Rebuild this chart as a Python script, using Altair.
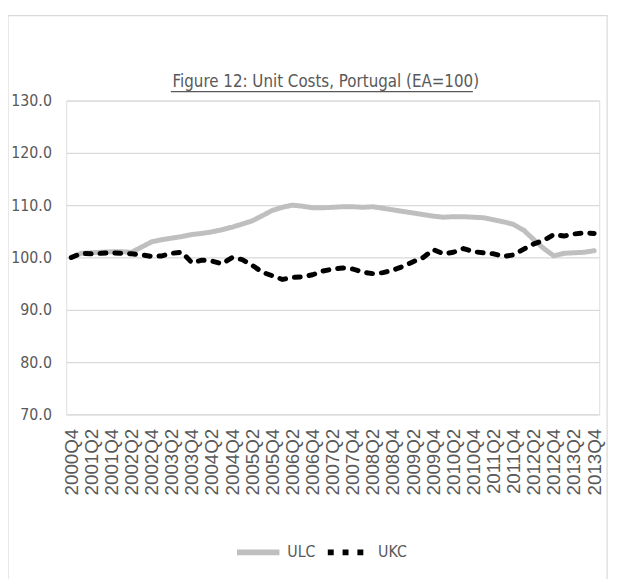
import altair as alt
import pandas as pd

# Categories: quarters 2000Q4 .. 2013Q4
quarters = [f"{y}Q{q}" for y in range(2000, 2014) for q in range(1, 5)][3:]
tick_labels = quarters[::2]

series_names = ["ULC", "UKC"]
title_text = ["Figure 12: Unit Costs, Portugal (EA=100)"]

ulc = [100.0, 100.8, 100.9, 101.0, 101.1, 101.1, 101.0, 102.0, 103.0, 103.4,
       103.7, 104.0, 104.4, 104.6, 104.9, 105.3, 105.8, 106.4, 107.0, 108.0,
       109.0, 109.6, 110.0, 109.8, 109.5, 109.5, 109.6, 109.7, 109.7, 109.6,
       109.7, 109.4, 109.1, 108.8, 108.5, 108.2, 107.9, 107.7, 107.8, 107.8,
       107.7, 107.6, 107.2, 106.8, 106.3, 105.2, 103.4, 101.7, 100.3, 100.8,
       100.9, 101.0, 101.3]

ukc = [100.0, 100.8, 100.7, 100.8, 100.9, 100.8, 100.7, 100.5, 100.2, 100.3,
       100.8, 101.0, 99.0, 99.5, 99.3, 98.8, 100.0, 99.6, 98.5, 97.2,
       96.5, 95.8, 96.2, 96.3, 96.7, 97.4, 97.8, 98.0, 97.8, 97.2,
       96.9, 97.1, 97.6, 98.3, 99.2, 100.0, 101.5, 100.7, 101.0, 101.7,
       101.1, 100.9, 100.7, 100.2, 100.5, 101.6, 102.6, 103.3, 104.4, 104.1,
       104.5, 104.7, 104.6]

y_ticks = [70, 80, 90, 100, 110, 120, 130]

rows = []
for name, vals in zip(series_names, [ulc, ukc]):
    for q, v in zip(quarters, vals):
        rows.append({"quarter": q, "series": name, "value": v})
df = pd.DataFrame(rows)

NARROW = "'Liberation Sans Narrow', 'DejaVu Sans Condensed', 'Roboto', sans-serif"
TXT = "#595959"

legend = alt.Legend(
    title=None, orient="none", legendX=170, legendY=433, direction="horizontal",
    symbolType="stroke", symbolSize=1849, symbolStrokeWidth=6,
    labelFont=NARROW, labelFontSize=16, labelColor=TXT, labelOffset=5,
    columnPadding=0,
)

line = alt.Chart(df).mark_line(strokeCap="round", strokeJoin="round", strokeWidth=5).encode(
    x=alt.X("quarter:N", sort=quarters,
            scale=alt.Scale(type="point", padding=0.5),
            axis=alt.Axis(values=tick_labels, labelAngle=-90, labelOverlap=False,
                          domain=False, ticks=False, grid=False, labelPadding=14,
                          labelFont="Liberation Sans", labelFontSize=19,
                          labelColor=TXT, title=None)),
    y=alt.Y("value:Q", scale=alt.Scale(domain=[70, 130], nice=False, zero=False),
            axis=alt.Axis(values=y_ticks, format=".1f", domain=False, ticks=False,
                          labelPadding=15, labelFont=NARROW, labelFontSize=16,
                          labelColor=TXT, gridColor="#D9D9D9", gridWidth=1.3,
                          title=None)),
    color=alt.Color("series:N", sort=series_names,
                    scale=alt.Scale(domain=series_names, range=["#BFBFBF", "#000000"]),
                    legend=legend),
    strokeDash=alt.StrokeDash("series:N", sort=series_names,
                              scale=alt.Scale(domain=series_names, range=[[1, 0], [6, 9]]),
                              legend=legend),
)

deco = pd.DataFrame({"a": [0]})
border = alt.Chart(deco).mark_rect(fillOpacity=0, stroke="#D9D9D9", strokeWidth=1.2).encode(
    x=alt.value(-59), x2=alt.value(548), y=alt.value(-86), y2=alt.value(520)
)
title = alt.Chart(pd.DataFrame({"t": title_text})).mark_text(
    font=NARROW, fontSize=17, color=TXT, align="center", baseline="alphabetic"
).encode(text="t:N", x=alt.value(263), y=alt.value(-14))
underline = alt.Chart(deco).mark_rule(color=TXT, strokeWidth=1.3).encode(
    x=alt.value(106), x2=alt.value(412), y=alt.value(-9)
)

chart = alt.layer(border, line, title, underline).properties(
    width=540, height=318,
    autosize=alt.AutoSizeParams(type="none"),
    padding={"left": 59, "top": 90, "right": 16, "bottom": 165},
).configure_view(stroke=None).configure(background="white")

chart.save("out.html", embed_options={"renderer": "svg", "actions": False})
